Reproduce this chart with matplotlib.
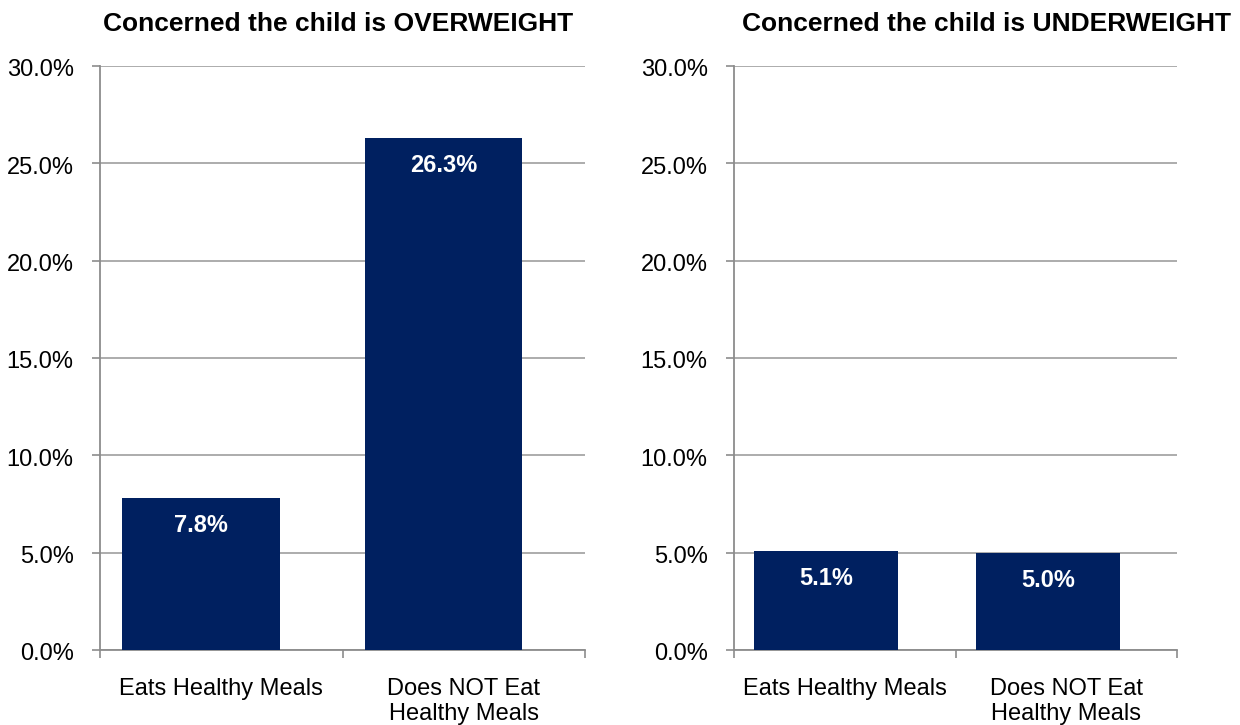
import matplotlib
matplotlib.use("Agg")
import matplotlib.pyplot as plt
import matplotlib.transforms as mtransforms
import numpy as np
from matplotlib.ticker import FuncFormatter

plt.rcParams['font.family'] = ['Liberation Sans', 'DejaVu Sans']

categories = ["Eats Healthy Meals", "Does NOT Eat\nHealthy Meals"]
overweight = [7.8, 26.3]
underweight = [5.1, 5.0]
titles = ["Concerned the child is OVERWEIGHT", "Concerned the child is UNDERWEIGHT"]
yticks = [0, 5, 10, 15, 20, 25, 30]

BAR = "#002060"
GRID = "#A6A6A6"
AXIS = "#8C8C8C"

fig = plt.figure(figsize=(12.4, 7.25), dpi=100)
ax1 = fig.add_axes([100/1240, (725-650)/725, 485/1240, 584/725])
ax2 = fig.add_axes([734/1240, (725-650)/725, 443/1240, 584/725])

x = np.arange(len(categories))
for ax, vals, title, tx in [(ax1, overweight, titles[0], 338.5/1240),
                            (ax2, underweight, titles[1], 986/1240)]:
    bars = ax.bar(x - 0.083, vals, width=0.65, color=BAR, zorder=3)
    ax.set_xlim(-0.5, 1.5)
    ax.set_ylim(0, 30)
    ax.set_yticks(yticks)
    ax.yaxis.set_major_formatter(FuncFormatter(lambda v, p: f"{v:.1f}%"))
    ax.set_xticks([-0.5, 0.5, 1.5], minor=False)
    ax.set_xticklabels([])
    ax.set_xticks(x, minor=True)
    ax.set_xticklabels(categories, minor=True)
    ax.tick_params(axis='x', which='major', length=6, width=1.2, color=AXIS, direction='out')
    ax.tick_params(axis='x', which='minor', length=0, pad=20, labelsize=17, labelcolor='black')
    ax.tick_params(axis='y', length=6, width=1.2, color=AXIS, pad=13, labelsize=17, labelcolor='black')
    ax.grid(axis='y', color=GRID, linewidth=1.3, zorder=0)
    off = mtransforms.ScaledTranslation(0, -2/100, fig.dpi_scale_trans)
    for lbl in ax.get_yticklabels():
        lbl.set_transform(lbl.get_transform() + off)
    for s in ['top', 'right']:
        ax.spines[s].set_visible(False)
    for s in ['left', 'bottom']:
        ax.spines[s].set_color(AXIS)
        ax.spines[s].set_linewidth(1.3)
    for b, v in zip(bars, vals):
        ax.annotate(f"{v:.1f}%", (b.get_x() + b.get_width()/2, v),
                    xytext=(0, -20), textcoords='offset points',
                    ha='center', va='center', color='white',
                    fontsize=17, fontweight='bold')
    fig.text(tx, (725-31)/725, title, ha='center', va='baseline',
             fontsize=19, fontweight='bold')

fig.savefig("out.png", dpi=100)
